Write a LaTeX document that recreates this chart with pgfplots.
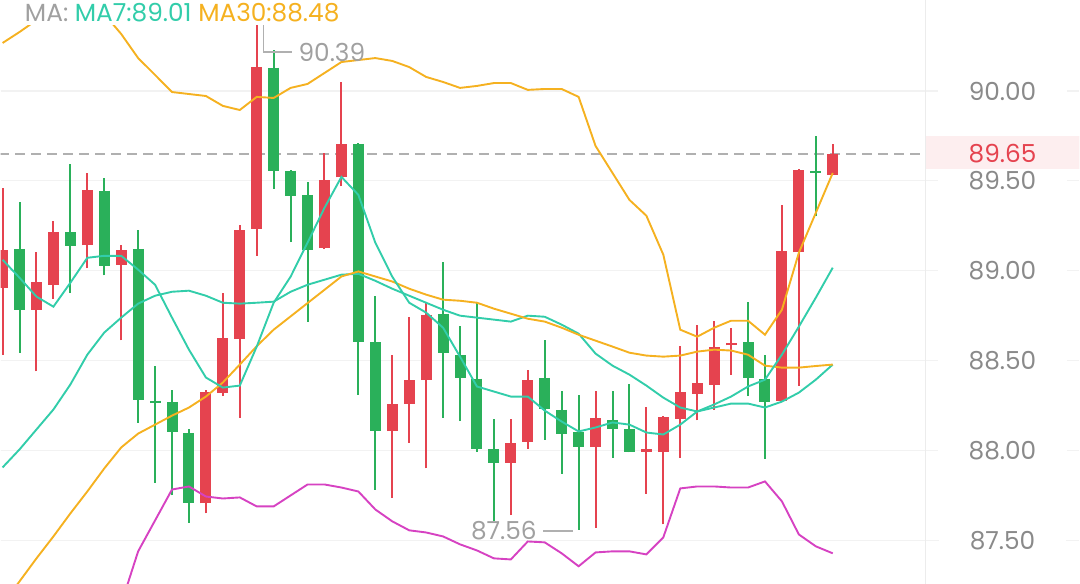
\documentclass[border=0pt]{standalone}
\usepackage{pgfplots}
\pgfplotsset{compat=1.18}
\usepackage{pgfplotstable}
\usepackage{fontspec}
\setmainfont{Poppins}

\definecolor{cred}{RGB}{229,67,79}
\definecolor{cgreen}{RGB}{42,176,90}
\definecolor{cteal}{RGB}{50,205,170}
\definecolor{corange}{RGB}{245,177,32}
\definecolor{cmag}{RGB}{214,66,194}
\definecolor{tickc}{RGB}{138,138,138}
\definecolor{lgray}{RGB}{160,160,160}
\definecolor{dashc}{RGB}{176,176,176}
\definecolor{gridc}{RGB}{242,242,242}
\definecolor{vlinec}{RGB}{236,236,236}
\definecolor{pinkbg}{RGB}{253,238,239}

% up candles (red): open=bottom, close=top
\pgfplotstableread{
i o c h l
0 88.906 89.117 89.461 88.533
2 88.782 88.935 89.104 88.440
3 88.922 89.218 89.278 88.843
5 89.141 89.450 89.546 89.015
7 89.033 89.117 89.144 88.613
12 87.706 88.326 88.335 87.650
13 88.320 88.626 88.876 88.302
14 88.620 89.228 89.252 88.182
15 89.232 90.131 90.394 89.083
19 89.126 89.506 89.654 89.120
20 89.519 89.706 90.048 89.469
23 88.108 88.261 88.533 87.737
24 88.259 88.394 88.741 88.043
25 88.391 88.756 88.820 87.900
30 87.932 88.043 88.178 87.641
31 88.048 88.394 88.450 88.011
35 88.019 88.182 88.330 87.570
38 87.994 88.006 88.241 87.760
39 87.991 88.185 88.191 87.589
40 88.178 88.324 88.580 87.959
41 88.317 88.376 88.700 88.167
42 88.367 88.574 88.722 88.228
43 88.585 88.597 88.681 88.422
46 88.278 89.107 89.367 88.270
47 89.102 89.561 89.567 88.361
49 89.533 89.650 89.706 89.530
}\upc

% down candles (green): open=top, close=bottom
\pgfplotstableread{
i o c h l
1 89.122 88.783 89.385 88.544
4 89.215 89.135 89.594 88.876
6 89.446 89.024 89.515 88.974
8 89.122 88.283 89.224 88.154
9 88.278 88.265 88.472 87.820
10 88.270 88.104 88.339 87.750
11 88.098 87.709 88.120 87.598
16 90.130 89.557 90.228 89.456
17 89.557 89.417 89.560 89.159
18 89.422 89.117 89.496 88.715
21 89.706 88.604 89.710 88.311
22 88.602 88.111 88.861 87.783
26 88.761 88.543 89.046 88.182
27 88.530 88.404 88.691 88.163
28 88.400 88.009 88.820 87.993
29 88.009 87.932 88.178 87.607
32 88.404 88.233 88.613 88.061
33 88.228 88.093 88.330 87.872
34 88.102 88.021 88.311 87.560
36 88.169 88.122 88.330 87.959
37 88.120 87.993 88.370 87.990
44 88.602 88.404 88.824 88.302
45 88.400 88.271 88.533 87.954
48 89.556 89.546 89.750 89.306
}\downc

% indicator lines
\pgfplotstableread{
i ma7 ma30 mid up dn
0 89.061 87.144 87.906 90.267 86.700
1 88.961 87.272 88.006 90.328 86.720
2 88.856 87.400 88.117 90.394 86.740
3 88.800 87.522 88.228 90.439 86.760
4 88.933 87.650 88.367 90.461 86.780
5 89.072 87.772 88.533 90.461 86.820
6 89.083 87.900 88.656 90.428 86.900
7 89.083 88.017 88.739 90.317 87.146
8 89.006 88.094 88.817 90.183 87.439
9 88.922 88.144 88.861 90.089 87.611
10 88.739 88.194 88.883 89.994 87.783
11 88.561 88.239 88.889 89.983 87.800
12 88.406 88.300 88.861 89.972 87.744
13 88.350 88.378 88.822 89.917 87.733
14 88.361 88.478 88.817 89.894 87.739
15 88.578 88.580 88.822 89.967 87.689
16 88.822 88.672 88.828 89.961 87.689
17 88.967 88.746 88.883 90.017 87.750
18 89.156 88.820 88.922 90.039 87.811
19 89.350 88.894 88.950 90.100 87.811
20 89.522 88.968 88.978 90.161 87.794
21 89.422 88.996 88.983 90.172 87.772
22 89.156 88.968 88.944 90.183 87.672
23 88.967 88.940 88.900 90.167 87.606
24 88.822 88.900 88.861 90.133 87.556
25 88.767 88.867 88.822 90.078 87.544
26 88.683 88.839 88.783 90.050 87.522
27 88.522 88.833 88.750 90.017 87.478
28 88.356 88.822 88.739 90.028 87.444
29 88.328 88.789 88.728 90.044 87.400
30 88.300 88.761 88.717 90.044 87.394
31 88.300 88.733 88.750 90.006 87.494
32 88.222 88.717 88.744 90.011 87.489
33 88.161 88.683 88.700 90.011 87.428
34 88.106 88.644 88.650 89.967 87.356
35 88.128 88.611 88.539 89.694 87.433
36 88.156 88.578 88.472 89.544 87.439
37 88.144 88.544 88.422 89.394 87.439
38 88.100 88.528 88.361 89.306 87.422
39 88.089 88.522 88.294 89.089 87.517
40 88.144 88.528 88.239 88.672 87.789
41 88.217 88.550 88.217 88.633 87.800
42 88.256 88.561 88.239 88.683 87.800
43 88.300 88.556 88.261 88.722 87.794
44 88.356 88.533 88.261 88.722 87.794
45 88.394 88.472 88.239 88.644 87.828
46 88.533 88.461 88.272 88.783 87.717
47 88.689 88.461 88.322 89.100 87.533
48 88.850 88.470 88.394 89.322 87.467
49 89.017 88.478 88.478 89.544 87.428
}\lines

\begin{document}
\begin{tikzpicture}
\begin{axis}[
  width=540pt, height=292pt, scale only axis,
  xmin=-0.118, xmax=63.56, ymin=87.261, ymax=90.506,
  axis line style={draw=none},
  xtick=\empty,
  ytick={87.5,88,88.5,89,89.5,90},
  major tick length=0pt,
  scaled y ticks=false,
  ymajorgrids,
  grid style={color=gridc, line width=0.6pt},
  yticklabel style={/pgf/number format/fixed,
    /pgf/number format/fixed zerofill,
    /pgf/number format/precision=2,
    /pgf/number format/assume math mode=true,
    anchor=center, xshift=501.5pt, fill=white,
    inner xsep=15.5pt, inner ysep=1pt, text=tickc,
    font=\fontsize{12.4}{14}\selectfont},
]
% vertical separator and price tag
\draw[vlinec, line width=0.6pt] (axis cs:54.48,87.0) -- (axis cs:54.48,91.0);
\fill[pinkbg] (axis cs:54.48,89.567) rectangle (axis cs:63.7,89.75);
\draw[dashc, line width=0.8pt, dash pattern=on 5pt off 3pt] (axis cs:-0.2,89.65) -- (axis cs:54.48,89.65);

% candles: wicks
\addplot[cred, line width=1pt, no markers, quiver={u=0, v=\thisrow{h}-\thisrow{l}}]
  table[x=i, y=l] {\upc};
\addplot[cgreen, line width=1pt, no markers, quiver={u=0, v=\thisrow{h}-\thisrow{l}}]
  table[x=i, y=l] {\downc};
% candles: bodies
\addplot[cred, line width=5.5pt, no markers, quiver={u=0, v=\thisrow{c}-\thisrow{o}}]
  table[x=i, y=o] {\upc};
\addplot[cgreen, line width=5.5pt, no markers, quiver={u=0, v=\thisrow{c}-\thisrow{o}}]
  table[x=i, y=o] {\downc};

% indicator lines
\addplot[cmag, line width=0.95pt, no markers] table[x=i, y=dn] {\lines};
\addplot[corange, line width=0.95pt, no markers] table[x=i, y=up] {\lines};
\addplot[cteal, line width=0.95pt, no markers] table[x=i, y=mid] {\lines};
\addplot[corange, line width=0.95pt, no markers] table[x=i, y=ma30] {\lines};
\addplot[cteal, line width=0.95pt, no markers] table[x=i, y=ma7] {\lines};

% annotations
\draw[dashc, line width=0.7pt] (axis cs:15.39,90.394) -- (axis cs:15.39,90.217) -- (axis cs:17.1,90.217);
\node[anchor=west, text=lgray, inner sep=0pt, font=\fontsize{12.4}{14}\selectfont] at (axis cs:17.45,90.217) {90.39};
\draw[dashc, line width=0.7pt] (axis cs:31.9,87.553) -- (axis cs:33.67,87.553);
\node[anchor=east, text=lgray, inner sep=0pt, font=\fontsize{12.4}{14}\selectfont] at (axis cs:31.55,87.553) {87.56};
\node[text=cred, inner sep=0pt, font=\fontsize{12.4}{14}\selectfont] at (axis cs:59.02,89.65) {89.65};

% legend text
\node[anchor=base west, fill=white, inner xsep=1pt, inner ysep=1.5pt, font=\fontsize{12.4}{14}\selectfont]
  at (axis cs:1.18,90.389) {\textcolor{lgray}{MA:} \textcolor{cteal}{MA7:89.01} \textcolor{corange}{MA30:88.48}};
\end{axis}
\end{tikzpicture}
\end{document}
